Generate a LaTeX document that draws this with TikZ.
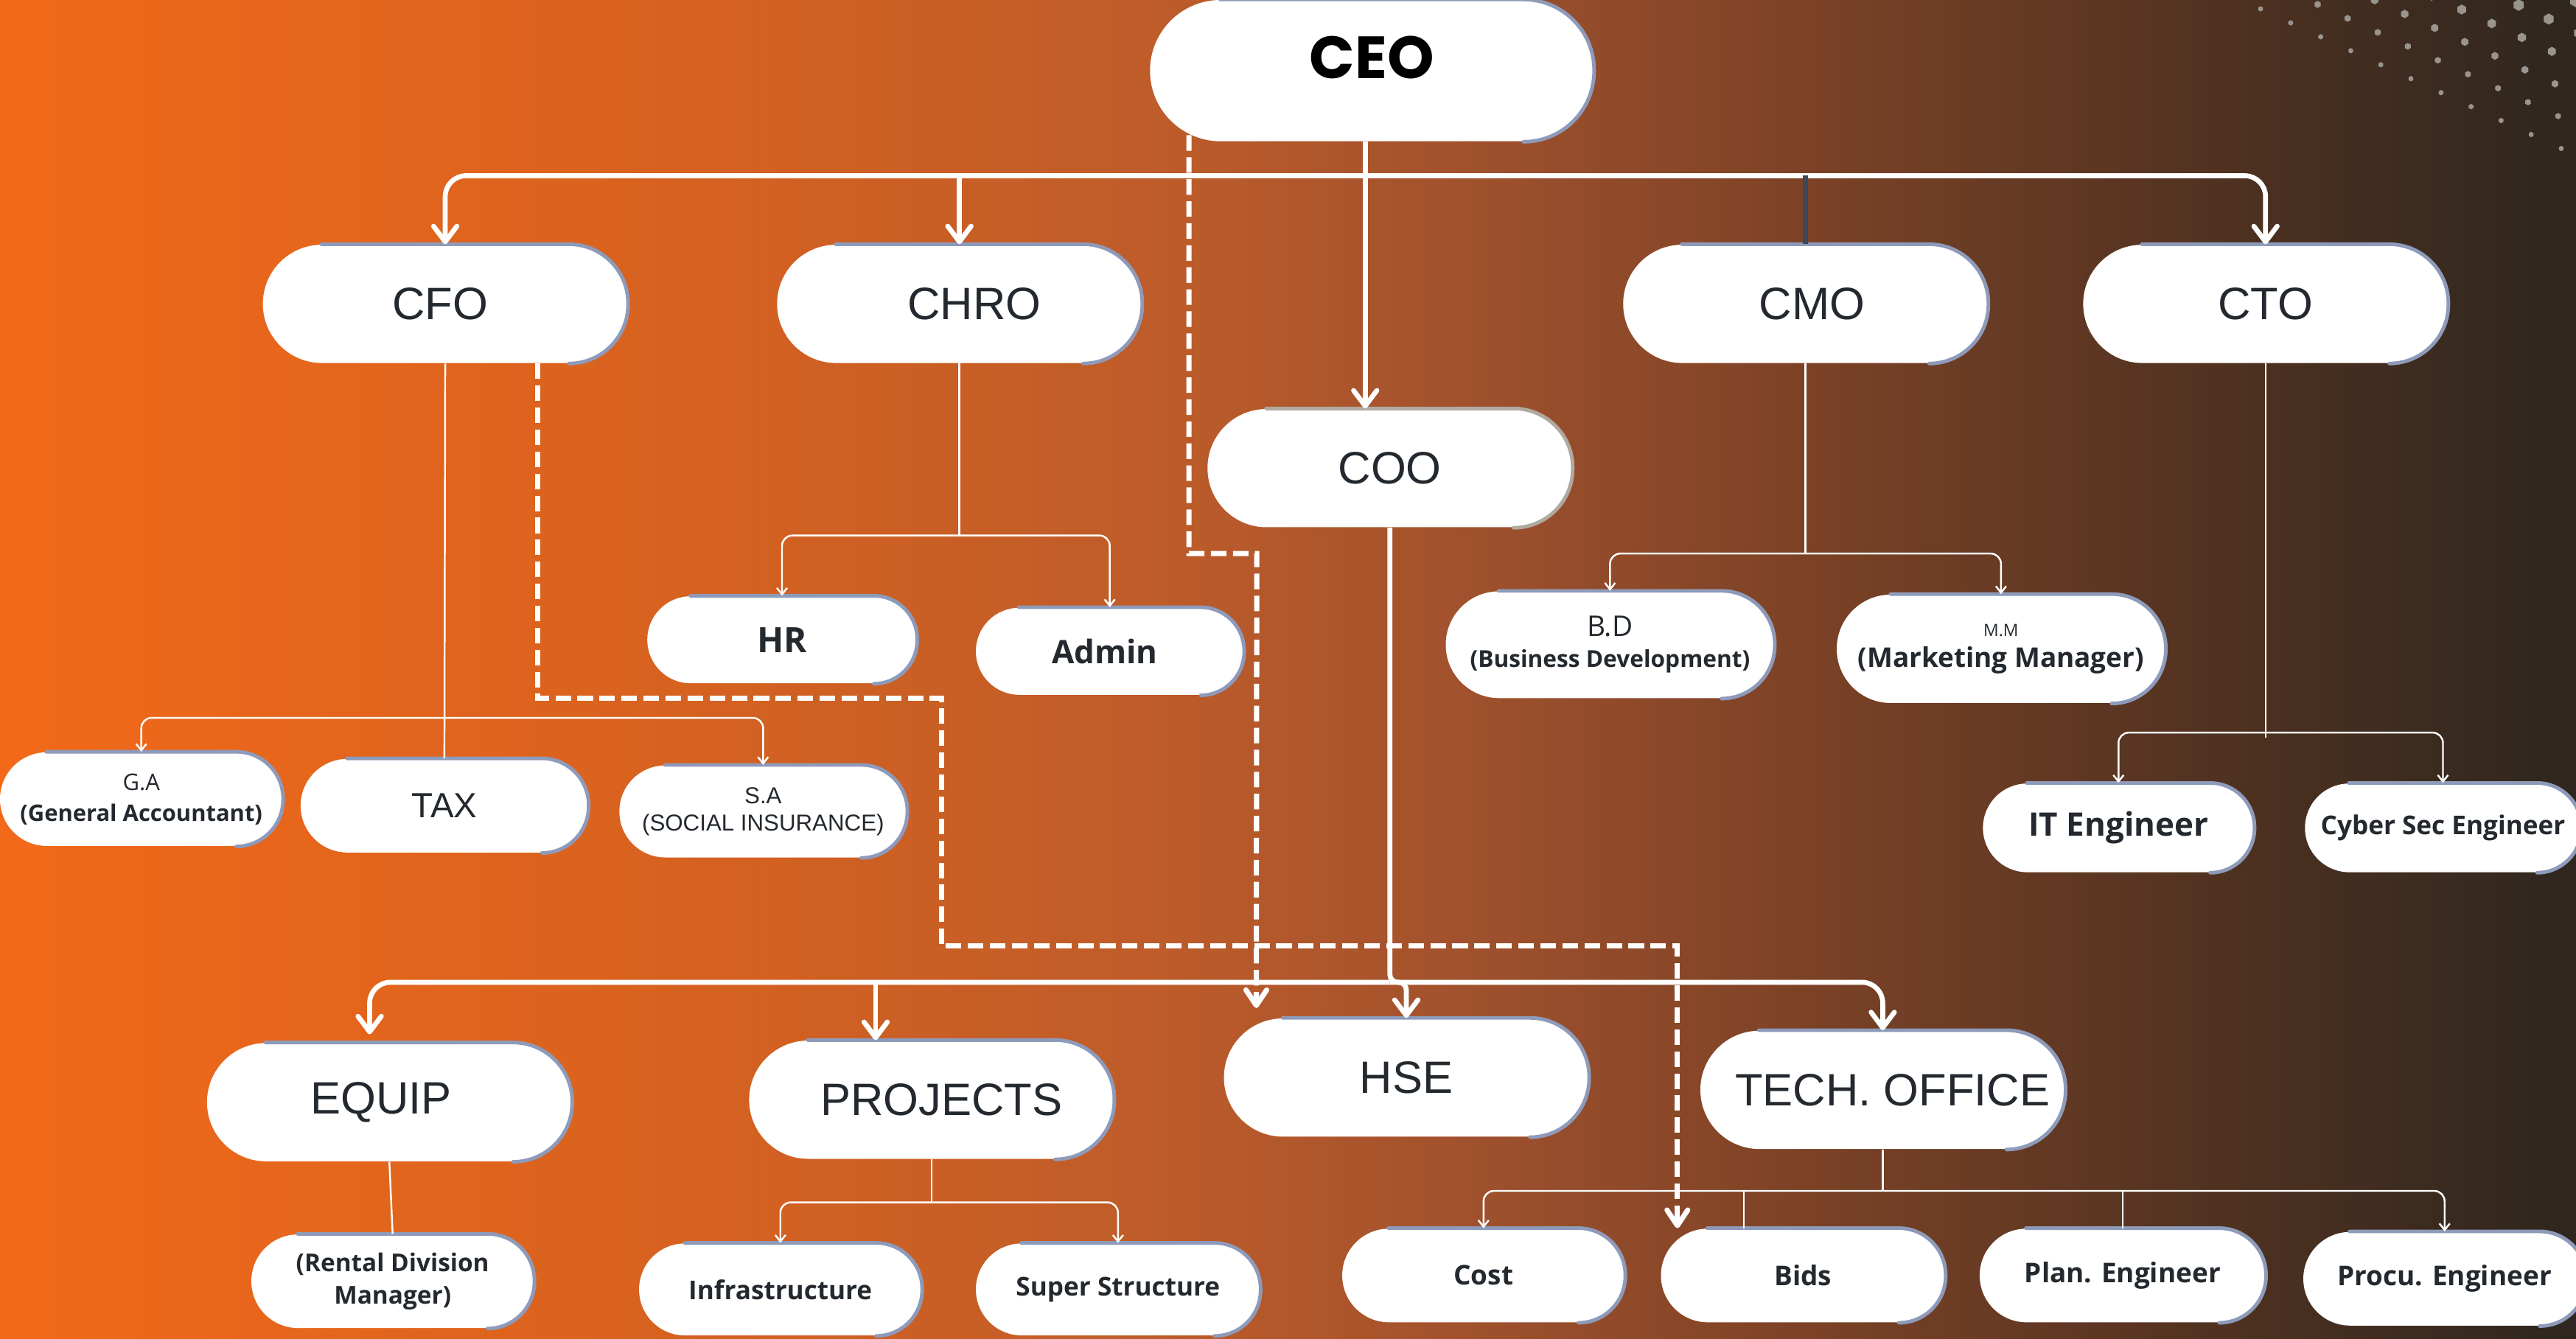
\documentclass[tikz,border=0pt]{standalone}
\usepackage{fontspec}
\setmainfont{Liberation Sans}
\newfontfamily\labelfont{Open Sans}
\newfontfamily\ceofont{Poppins}
\usetikzlibrary{arrows.meta,calc,positioning}

\newlength\unitpx
\setlength\unitpx{0.2229mm}

\definecolor{bgA}{HTML}{F26919}
\definecolor{bgB}{HTML}{D8621F}
\definecolor{bgC}{HTML}{BE5C2A}
\definecolor{bgD}{HTML}{A0512D}
\definecolor{bgE}{HTML}{7C4226}
\definecolor{bgF}{HTML}{4B3020}
\definecolor{bgG}{HTML}{2E261F}
\definecolor{accentblue}{HTML}{8E9AB9}
\definecolor{accentgray}{HTML}{B0A99F}
\definecolor{textdark}{HTML}{23292E}
\definecolor{dotgray}{HTML}{9A948F}
\definecolor{stubgray}{HTML}{3E4756}

\pgfdeclarehorizontalshading{orgbg}{100bp}{color(0bp)=(bgA); color(25bp)=(bgA);
  color(37.5bp)=(bgB); color(47.5bp)=(bgC); color(53.5bp)=(bgD); color(60bp)=(bgE);
  color(69bp)=(bgF); color(75bp)=(bgG); color(100bp)=(bgG)}

\tikzset{
  bigbox/.style={fill=white, minimum width=222\unitpx, minimum height=72\unitpx,
    rounded corners=36\unitpx, inner sep=0pt, text=textdark, font=\fontsize{17.5}{20}\selectfont},
  subbox/.style={fill=white, minimum height=57\unitpx, rounded corners=28.5\unitpx,
    inner sep=0pt, align=center, text=textdark, font=\labelfont\bfseries\fontsize{10.5}{12}\selectfont},
  busline/.style={draw=white, line width=1.9pt},
  busarrow/.style={busline, -{Straight Barb[length=6pt,width=9pt,round]}},
  stubline/.style={draw=stubgray, line width=1.9pt},
  dashline/.style={draw=white, line width=2pt, dash pattern=on 6pt off 2.5pt,
    -{Straight Barb[length=6pt,width=8pt,round]}},
  twig/.style={draw=white, line width=0.7pt},
  twigarrow/.style={twig, -{Straight Barb[length=2.5pt,width=4pt]}},
  accent/.style={draw=accentblue, line width=1.4pt, line cap=round},
}

\begin{document}
\begin{tikzpicture}[x=0.2229mm, y=-0.2229mm]
\useasboundingbox (0,0) rectangle (1568,815);
\clip (0,0) rectangle (1568,815);
\shade[shading=orgbg] (0,0) rectangle (1568,815);

% dots top right
\foreach \i in {0,...,6}
  \foreach \j in {-1,...,11} {
    \pgfmathsetmacro\dotx{1376+34.7*\i+18.3*\j}
    \pgfmathsetmacro\doty{5.4-2.7*\i+8.5*\j}
    \pgfmathsetmacro\dotr{1.65+0.5*\i-0.03*\i*\j}
    \fill[dotgray] (\dotx,\doty) +(90:\dotr) -- +(150:\dotr) -- +(210:\dotr)
      -- +(270:\dotr) -- +(330:\dotr) -- +(30:\dotr) -- cycle;
  }

% top level
\node[bigbox, minimum width=270\unitpx, minimum height=86\unitpx, rounded corners=43\unitpx,
  text=black, font=\ceofont\bfseries\fontsize{23}{26}\selectfont,
  text height=16pt, text depth=10pt] (ceo) at (835,43) {CEO};
\node[bigbox] (cfo) at (271,185) {\hspace*{-6\unitpx}CFO};
\node[bigbox] (chro) at (584,185) {\hspace*{18\unitpx}CHRO};
\node[bigbox] (cmo) at (1099,185) {\hspace*{8\unitpx}CMO};
\node[bigbox] (cto) at (1379,185) {CTO};
\node[bigbox, text depth=-3pt] (coo) at (846,285) {COO};

% COO departments
\node[bigbox] (equip) at (237,671) {\hspace*{-10\unitpx}EQUIP};
\node[bigbox] (projects) at (567,669.5) {\hspace*{12\unitpx}PROJECTS};
\node[bigbox] (hse) at (856,656) {HSE};
\node[bigbox] (tech) at (1146,663.5) {\hspace*{12\unitpx}TECH. OFFICE};

% sub units
\node[subbox, minimum width=172\unitpx] (ga) at (86,486.5)
  {{\fontsize{8.8}{10}\mdseries\selectfont G.A}\\ {\fontsize{8.8}{10}\selectfont (General Accountant)}};
\node[subbox, minimum width=175\unitpx, font=\fontsize{13.5}{15}\selectfont] (tax) at (270.5,490.5) {TAX};
\node[subbox, minimum width=175\unitpx, minimum height=56\unitpx, rounded corners=28\unitpx,
  font=\fontsize{8.9}{10.5}\selectfont] (sa) at (464.5,494) {S.A\\(SOCIAL INSURANCE)};
\node[subbox, minimum width=164\unitpx, minimum height=53\unitpx, rounded corners=26.5\unitpx,
  font=\labelfont\bfseries\fontsize{13.5}{15}\selectfont] (hr) at (476,389.5) {HR};
\node[subbox, minimum width=163\unitpx, minimum height=53\unitpx, rounded corners=26.5\unitpx,
  font=\labelfont\bfseries\fontsize{12.5}{15}\selectfont] (admin) at (675.5,396.5) {\hspace*{-6\unitpx}Admin};
\node[subbox, minimum width=200\unitpx, minimum height=65\unitpx, rounded corners=32.5\unitpx] (bd) at (980,392.5)
  {{\fontsize{11}{12}\mdseries\selectfont B.D}\\ {\fontsize{9}{10}\selectfont (Business Development)}};
\node[subbox, minimum width=200\unitpx, minimum height=66\unitpx, rounded corners=33\unitpx] (mm) at (1218,395)
  {{\fontsize{6.5}{8}\mdseries\selectfont M.M}\\ {\fontsize{10.5}{12}\selectfont (Marketing Manager)}};
\node[subbox, minimum width=165\unitpx, minimum height=54\unitpx, rounded corners=27\unitpx,
  font=\labelfont\bfseries\fontsize{12.5}{15}\selectfont] (it) at (1289.5,504) {IT Engineer};
\node[subbox, minimum width=168\unitpx, minimum height=54\unitpx, rounded corners=27\unitpx,
  font=\labelfont\bfseries\fontsize{10}{12}\selectfont] (cyber) at (1487,504) {Cyber Sec Engineer};
\node[subbox, minimum width=172\unitpx, font=\labelfont\bfseries\fontsize{9.5}{12.6}\selectfont] (rental) at (239,780)
  {(Rental Division\\Manager)};
\node[subbox, minimum width=172\unitpx, minimum height=56\unitpx, rounded corners=28\unitpx,
  font=\labelfont\bfseries\fontsize{10}{12}\selectfont] (infra) at (475,785) {Infrastructure};
\node[subbox, minimum width=173\unitpx, minimum height=56\unitpx, rounded corners=28\unitpx,
  font=\labelfont\bfseries\fontsize{10}{12}\selectfont] (superstr) at (680.5,785) {Super Structure};
\node[subbox, minimum width=172\unitpx] (cost) at (903,776.5) {Cost};
\node[subbox, minimum width=173\unitpx] (bids) at (1097.5,776.5) {Bids};
\node[subbox, minimum width=174\unitpx] (plan) at (1292,776.5) {Plan. Engineer};
\node[subbox, minimum width=172\unitpx] (procu) at (1488,778.5) {Procu. Engineer};

% edge accents
\foreach \n/\r in {ceo/43, cfo/36, chro/36, cmo/36, cto/36, equip/36, projects/36, hse/36, tech/36,
    ga/28.5, tax/28.5, sa/28, hr/26.5, admin/26.5, bd/32.5, mm/33, it/27, cyber/27, rental/28.5,
    infra/28, superstr/28, cost/28.5, bids/28.5, plan/28.5, procu/28.5}
  \draw[accent, rounded corners=\r\unitpx] ($(\n.north west)+(\r,0)$) -- (\n.north east)
    -- (\n.south east) -- ($(\n.south east)+(-\r,0)$);
\draw[accent, draw=accentgray, rounded corners=36\unitpx] ($(coo.north west)+(36,0)$) -- (coo.north east)
  -- (coo.south east) -- ($(coo.south east)+(-36,0)$);

% bus levels
\coordinate (topbus) at (0,107);
\coordinate (lowbus) at (0,598);
\coordinate (gabus) at (0,437);
\coordinate (hrbus) at (0,326);
\coordinate (bdbus) at (0,337);
\coordinate (itbus) at (0,446);
\coordinate (infrabus) at (0,732);
\coordinate (techbus) at (0,725);

% CEO to chiefs
\coordinate (ceostem) at ($(ceo.south)+(-4,0)$);
\draw[busarrow] (ceostem) -- ($(coo.north)+(-15,0)$);
\draw[busarrow, rounded corners=8pt] (ceostem |- topbus) -| (cfo.north);
\draw[busarrow, rounded corners=8pt] (ceostem |- topbus) -| (cto.north);
\draw[busarrow] (chro.north |- topbus) -- (chro.north);
\draw[stubline] (cmo.north |- topbus) -- (cmo.north);

% dashed links
\coordinate (dashstartA) at ($(ceo.south west)+(24,-4)$);
\coordinate (dashkneeA) at (765,337);
\draw[dashline] (dashstartA) |- (dashkneeA) -- ($(hse.north west)+(20,-6)$);
\coordinate (dashstartB) at ($(cfo.south east)+(-55,0)$);
\coordinate (dashkneeB) at (573,425);
\coordinate (dashkneeC) at (1021,576);
\draw[dashline] (dashstartB) |- (dashkneeB) |- (dashkneeC) -- (dashkneeC |- bids.north);

% COO to departments
\coordinate (equipin) at ($(equip.north)+(-12,-5)$);
\coordinate (projin) at ($(projects.north)+(-34,0)$);
\draw[busarrow, rounded corners=3pt] (coo.south) -- (coo.south |- lowbus) -| (hse.north);
\draw[busarrow, rounded corners=8pt] (coo.south |- lowbus) -| (equipin);
\draw[busarrow, rounded corners=8pt] (coo.south |- lowbus) -| (tech.north);
\draw[busarrow] (projin |- lowbus) -- (projin);

% CFO
\draw[twig] (cfo.south) -- (tax.north);
\draw[twigarrow, rounded corners=4pt] (cfo.south |- gabus) -| (ga.north);
\draw[twigarrow, rounded corners=4pt] (cfo.south |- gabus) -| (sa.north);
% CHRO
\draw[twig] (chro.south) -- (chro.south |- hrbus);
\draw[twigarrow, rounded corners=4pt] (chro.south |- hrbus) -| (hr.north);
\draw[twigarrow, rounded corners=4pt] (chro.south |- hrbus) -| (admin.north);
% CMO
\draw[twig] (cmo.south) -- (cmo.south |- bdbus);
\draw[twigarrow, rounded corners=4pt] (cmo.south |- bdbus) -| (bd.north);
\draw[twigarrow, rounded corners=4pt] (cmo.south |- bdbus) -| (mm.north);
% CTO
\draw[twig] (cto.south) -- ($(cto.south |- itbus)+(0,3)$);
\draw[twigarrow, rounded corners=4pt] (cto.south |- itbus) -| (it.north);
\draw[twigarrow, rounded corners=4pt] (cto.south |- itbus) -| (cyber.north);
% EQUIP
\draw[twig] (equip.south) -- (rental.north);
% PROJECTS
\draw[twig] (projects.south) -- (projects.south |- infrabus);
\draw[twigarrow, rounded corners=4pt] (projects.south |- infrabus) -| (infra.north);
\draw[twigarrow, rounded corners=4pt] (projects.south |- infrabus) -| (superstr.north);
% TECH. OFFICE
\coordinate (bidsin) at ($(bids.north)+(-36,0)$);
\draw[twig] (tech.south) -- (tech.south |- techbus);
\draw[twigarrow, rounded corners=4pt] (tech.south |- techbus) -| (cost.north);
\draw[twigarrow, rounded corners=4pt] (tech.south |- techbus) -| (procu.north);
\draw[twig] (bidsin |- techbus) -- (bidsin);
\draw[twig] (plan.north |- techbus) -- (plan.north);
\end{tikzpicture}
\end{document}
